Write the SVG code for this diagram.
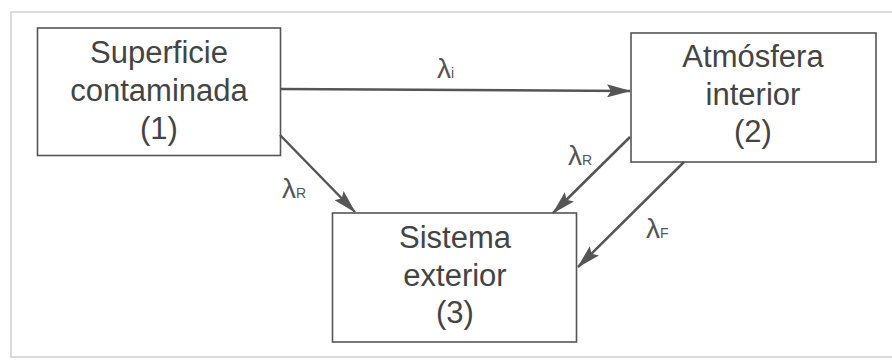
<svg xmlns="http://www.w3.org/2000/svg" width="892" height="362" viewBox="0 0 892 362">
  <defs>
    <marker id="arr" viewBox="0 0 24 13" markerWidth="24" markerHeight="13" refX="23" refY="6.5" orient="auto" markerUnits="userSpaceOnUse">
      <path d="M0,0 L24,6.5 L0,13 L4,6.5 z" fill="#555"/>
    </marker>
    <style>
      .box { fill: #fff; stroke: #555; stroke-width: 1.6; }
      .t { font-family: "Liberation Sans", Arial, sans-serif; font-size: 31px; fill: #444; text-anchor: middle; }
      .lam { font-family: "Liberation Sans", Arial, sans-serif; font-size: 28px; fill: #555; }
      .sub { font-size: 14px; }
      .c { stroke: #555; stroke-width: 2.5; fill: none; marker-end: url(#arr); }
    </style>
  </defs>
  <rect x="0" y="0" width="892" height="362" fill="#fff"/>
  <rect x="11" y="12" width="882" height="345" fill="none" stroke="#cfcfcf" stroke-width="1.5"/>

  <g id="node1">
    <rect class="box" x="37.5" y="28" width="243" height="127.5"/>
    <text class="t" x="159" y="63">Superficie</text>
    <text class="t" x="159" y="101">contaminada</text>
    <text class="t" x="159" y="139">(1)</text>
  </g>
  <g id="node2">
    <rect class="box" x="631" y="33" width="245" height="129"/>
    <text class="t" x="753" y="67">Atmósfera</text>
    <text class="t" x="753" y="105">interior</text>
    <text class="t" x="753" y="142">(2)</text>
  </g>
  <g id="node3">
    <rect class="box" x="332.5" y="213" width="244" height="129"/>
    <text class="t" x="455" y="248">Sistema</text>
    <text class="t" x="455" y="286">exterior</text>
    <text class="t" x="455" y="323">(3)</text>
  </g>

  <g id="connectors">
    <line class="c" x1="280" y1="89" x2="630" y2="91"/>
    <line class="c" x1="280" y1="135" x2="355" y2="212"/>
    <line class="c" x1="630" y1="137" x2="553" y2="213"/>
    <line class="c" x1="684" y1="162" x2="578" y2="267"/>
    <text class="lam" x="437" y="78">λ<tspan class="sub">i</tspan></text>
    <text class="lam" x="282" y="198">λ<tspan class="sub">R</tspan></text>
    <text class="lam" x="568" y="165">λ<tspan class="sub">R</tspan></text>
    <text class="lam" x="646" y="238">λ<tspan class="sub">F</tspan></text>
  </g>
</svg>
